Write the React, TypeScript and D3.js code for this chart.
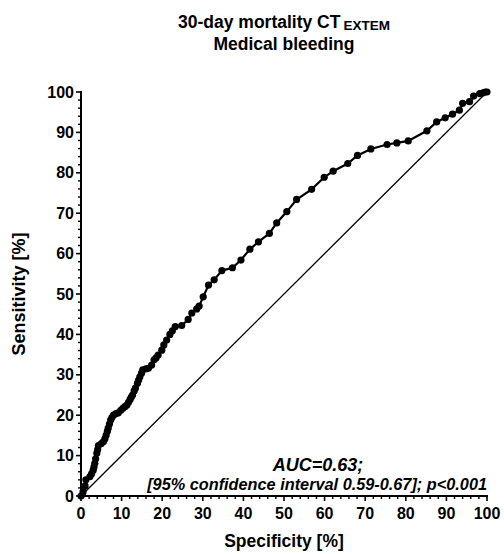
import React, { useEffect, useRef } from 'react';
import * as d3 from 'd3';

// ROC curve points: [100 - specificity %, sensitivity %]
const specificity = [
  0, 0.5, 1.0, 1.2, 2.2, 2.6, 3.0, 3.2, 3.4, 3.6, 3.9, 4.1, 4.3, 5.0, 5.5, 5.9, 6.2, 6.5, 6.7, 7.0,
  7.3, 7.6, 8.0, 8.6, 9.2, 9.8, 10.3, 10.8, 11.3, 11.7, 12.1, 12.4, 12.7, 13.1, 13.4, 13.9, 14.2, 14.5,
  14.9, 15.2, 16.0, 16.6, 17.4, 18.0, 18.5, 19.0, 19.9, 20.4, 21.1, 21.9, 22.5, 23.2, 24.8, 26.4, 27.3,
  28.5, 29.1, 30.1, 31.4, 32.8, 34.7, 37.3, 39.4, 41.6, 43.7, 46.4, 48.2, 50.7, 53.1, 56.8, 59.9, 62.1,
  65.7, 68.1, 71.4, 75.4, 77.8, 80.6, 85.2, 87.6, 89.7, 91.5, 93.2, 94.0, 95.7, 96.7, 98.2, 99.0, 99.6, 100,
];
const sensitivity = [
  0, 1.0, 2.5, 4.0, 4.8, 5.5, 6.4, 7.2, 8.1, 9.2, 10.6, 11.5, 12.5, 13.0, 13.4, 14.2, 15.1, 16.0, 16.8, 17.8,
  18.8, 19.4, 20.0, 20.4, 20.6, 21.2, 21.7, 22.1, 22.5, 23.2, 23.9, 24.5, 25.0, 26.0, 26.7, 27.9, 28.7, 29.5,
  30.4, 31.2, 31.5, 31.6, 32.4, 33.7, 34.2, 34.9, 36.1, 37.4, 38.6, 40.0, 40.9, 41.9, 42.2, 43.7, 45.3,
  46.3, 47.0, 49.3, 52.2, 53.5, 55.8, 56.5, 58.4, 61.1, 62.9, 65.0, 67.6, 70.4, 73.4, 75.9, 78.9, 80.4,
  82.3, 84.3, 85.9, 87.0, 87.4, 87.9, 90.4, 92.6, 93.6, 94.5, 95.5, 97.2, 97.6, 99.0, 99.6, 99.8, 100, 100,
];
const majorTicks = [0, 10, 20, 30, 40, 50, 60, 70, 80, 90, 100];
const minorTicks = d3.range(0, 101, 2).filter(v => v % 10 !== 0);

const FONT = '"Liberation Sans", Arial, sans-serif';

const App = () => {
  const svgRef = useRef<SVGSVGElement | null>(null);

  useEffect(() => {
    if (!svgRef.current) return;
    const svg = d3.select(svgRef.current);
    svg.selectAll('*').remove();

    const x = d3.scaleLinear().domain([0, 100]).range([81, 487]);
    const y = d3.scaleLinear().domain([0, 100]).range([496, 92]);

    const points = specificity.map((s, i) => ({ s, v: sensitivity[i] }));

    // Title
    const title = svg.append('text')
      .attr('x', 284)
      .attr('y', 28)
      .attr('text-anchor', 'middle')
      .attr('font-family', FONT)
      .attr('font-weight', 'bold')
      .attr('font-size', '17.5px');
    title.append('tspan').text('30-day mortality CT');
    title.append('tspan')
      .attr('font-size', '13.5px')
      .attr('dx', 3)
      .attr('dy', 2)
      .text('EXTEM');

    svg.append('text')
      .attr('x', 284)
      .attr('y', 50)
      .attr('text-anchor', 'middle')
      .attr('font-family', FONT)
      .attr('font-weight', 'bold')
      .attr('font-size', '17.5px')
      .text('Medical bleeding');

    // Reference diagonal
    svg.append('line')
      .attr('x1', x(0)).attr('y1', y(0))
      .attr('x2', x(100)).attr('y2', y(100))
      .attr('stroke', '#000')
      .attr('stroke-width', 1.3);

    // Axes
    const axisG = svg.append('g').attr('stroke', '#000');
    axisG.append('line')
      .attr('x1', x(0)).attr('x2', x(0))
      .attr('y1', y(100) - 1).attr('y2', y(0) + 1)
      .attr('stroke-width', 2);
    axisG.append('line')
      .attr('x1', x(0) - 1).attr('x2', x(100) + 1)
      .attr('y1', y(0)).attr('y2', y(0))
      .attr('stroke-width', 2);

    axisG.selectAll('.ymaj').data(majorTicks).enter().append('line')
      .attr('x1', x(0) - 5).attr('x2', x(0))
      .attr('y1', d => y(d)).attr('y2', d => y(d))
      .attr('stroke-width', 1.6);
    axisG.selectAll('.ymin').data(minorTicks).enter().append('line')
      .attr('x1', x(0) - 3).attr('x2', x(0))
      .attr('y1', d => y(d)).attr('y2', d => y(d))
      .attr('stroke-width', 1.4);
    axisG.selectAll('.xmaj').data(majorTicks).enter().append('line')
      .attr('x1', d => x(d)).attr('x2', d => x(d))
      .attr('y1', y(0)).attr('y2', y(0) + 5)
      .attr('stroke-width', 1.6);
    axisG.selectAll('.xmin').data(minorTicks).enter().append('line')
      .attr('x1', d => x(d)).attr('x2', d => x(d))
      .attr('y1', y(0)).attr('y2', y(0) + 3)
      .attr('stroke-width', 1.4);

    svg.selectAll('.ylab').data(majorTicks).enter().append('text')
      .attr('x', x(0) - 7)
      .attr('y', d => y(d) + 5.5)
      .attr('text-anchor', 'end')
      .attr('font-family', FONT)
      .attr('font-weight', 'bold')
      .attr('font-size', '16px')
      .text(d => d);
    svg.selectAll('.xlab').data(majorTicks).enter().append('text')
      .attr('x', d => x(d))
      .attr('y', 519)
      .attr('text-anchor', 'middle')
      .attr('font-family', FONT)
      .attr('font-weight', 'bold')
      .attr('font-size', '16px')
      .text(d => d);

    svg.append('text')
      .attr('x', 284)
      .attr('y', 547)
      .attr('text-anchor', 'middle')
      .attr('font-family', FONT)
      .attr('font-weight', 'bold')
      .attr('font-size', '17.5px')
      .text('Specificity [%]');

    svg.append('text')
      .attr('transform', 'translate(25, 294) rotate(-90)')
      .attr('text-anchor', 'middle')
      .attr('font-family', FONT)
      .attr('font-weight', 'bold')
      .attr('font-size', '18px')
      .text('Sensitivity [%]');

    // ROC curve
    const line = d3.line<{ s: number; v: number }>()
      .x(d => x(d.s))
      .y(d => y(d.v));
    svg.append('path')
      .datum(points)
      .attr('fill', 'none')
      .attr('stroke', '#000')
      .attr('stroke-width', 2.2)
      .attr('d', line);
    svg.selectAll('.pt').data(points).enter().append('circle')
      .attr('cx', d => x(d.s))
      .attr('cy', d => y(d.v))
      .attr('r', 3.6)
      .attr('fill', '#000');

    // Annotation
    svg.append('text')
      .attr('x', 318)
      .attr('y', 471)
      .attr('text-anchor', 'middle')
      .attr('font-family', FONT)
      .attr('font-weight', 'bold')
      .attr('font-style', 'italic')
      .attr('font-size', '18px')
      .text('AUC=0.63;');
    svg.append('text')
      .attr('x', 487)
      .attr('y', 490)
      .attr('text-anchor', 'end')
      .attr('font-family', FONT)
      .attr('font-weight', 'bold')
      .attr('font-style', 'italic')
      .attr('font-size', '16.3px')
      .text('[95% confidence interval 0.59-0.67]; p<0.001');
  }, []);

  return (
    <svg
      ref={svgRef}
      width={504}
      height={554}
      style={{ position: 'absolute', left: 0, top: 0, background: '#fff' }}
    />
  );
};

export default App;
